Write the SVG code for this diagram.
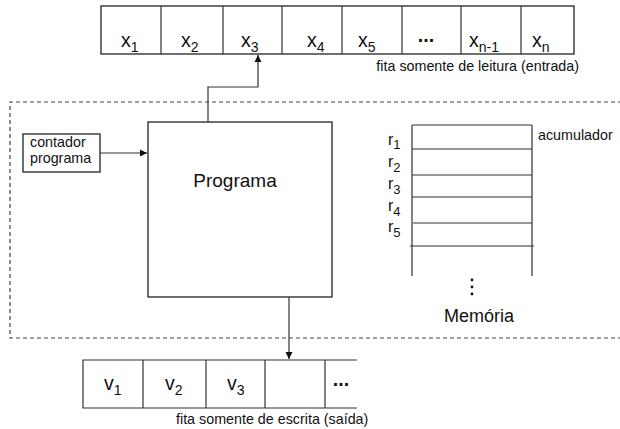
<svg xmlns="http://www.w3.org/2000/svg" width="620" height="429" viewBox="0 0 620 429">
<defs>
<style>
text{font-family:"Liberation Sans",Arial,sans-serif;fill:#111}
.big{font-size:19.5px}
.sub{font-size:14px}
.sm{font-size:14.3px}
.ln{stroke:#333;stroke-width:1.2;fill:none}
.box{stroke:#222;stroke-width:1.3;fill:#fff}
.dash{stroke:#444;stroke-width:1.2;fill:none;stroke-dasharray:4 3}
</style>
<marker id="ah" viewBox="0 0 10 10" refX="10" refY="5" markerWidth="7" markerHeight="9" markerUnits="userSpaceOnUse" orient="auto">
<path d="M0,0 L10,5 L0,10 z" fill="#111"/>
</marker>
</defs>
<rect width="620" height="429" fill="#fff"/>

<g id="container">
<path class="dash" d="M622,102 H10 V338 H622"/>
</g>

<g id="input-tape">
<rect class="box" x="101" y="6" width="473" height="48"/>
<path class="ln" d="M161,6V54M223,6V54M282,6V54M342,6V54M402,6V54M461,6V54M521,6V54"/>
<text class="big" x="121" y="47">x<tspan class="sub" dy="5">1</tspan></text>
<text class="big" x="181" y="47">x<tspan class="sub" dy="5">2</tspan></text>
<text class="big" x="241" y="47">x<tspan class="sub" dy="5">3</tspan></text>
<text class="big" x="307" y="47">x<tspan class="sub" dy="5">4</tspan></text>
<text class="big" x="358" y="47">x<tspan class="sub" dy="5">5</tspan></text>
<text class="big" x="426" y="42" text-anchor="middle" font-weight="bold">...</text>
<text class="big" x="469" y="47">x<tspan class="sub" dy="5">n-1</tspan></text>
<text class="big" x="532" y="47">x<tspan class="sub" dy="5">n</tspan></text>
<text class="sm" x="579" y="71" text-anchor="end">fita somente de leitura (entrada)</text>
</g>

<g id="contador">
<rect class="box" x="23" y="134" width="77" height="38"/>
<text class="sm" x="30" y="147">contador</text>
<text class="sm" x="30" y="163">programa</text>
</g>

<g id="programa">
<rect class="box" x="148" y="122" width="184" height="175"/>
<text x="235" y="187" text-anchor="middle" font-size="19">Programa</text>
</g>

<g id="memoria">
<path class="ln" d="M412,125V276M532,125V276"/>
<path class="ln" d="M412,125H532M412,149H532M412,175H532M412,197H532M413,223H532M410,246H534"/>
<text x="388" y="145" font-size="16">r<tspan font-size="13" dy="4">1</tspan></text>
<text x="388" y="167" font-size="16">r<tspan font-size="13" dy="5">2</tspan></text>
<text x="388" y="189" font-size="16">r<tspan font-size="13" dy="5">3</tspan></text>
<text x="388" y="211" font-size="16">r<tspan font-size="13" dy="5">4</tspan></text>
<text x="388" y="232" font-size="16">r<tspan font-size="13" dy="5">5</tspan></text>
<text class="sm" x="538" y="140">acumulador</text>
<circle cx="472" cy="280" r="1.4" fill="#111"/>
<circle cx="472" cy="287" r="1.4" fill="#111"/>
<circle cx="472" cy="294" r="1.4" fill="#111"/>
<text x="479" y="322" text-anchor="middle" font-size="18">Memória</text>
</g>

<g id="output-tape">
<path class="ln" d="M357,360H83V408H357"/>
<path class="ln" d="M143,360V408M206,360V408M265,360V408M325,360V408"/>
<text class="big" x="104" y="390">v<tspan class="sub" dy="5">1</tspan></text>
<text class="big" x="165" y="390">v<tspan class="sub" dy="5">2</tspan></text>
<text class="big" x="227" y="390">v<tspan class="sub" dy="5">3</tspan></text>
<text class="big" x="341" y="386" text-anchor="middle" font-weight="bold">...</text>
<text class="sm" x="176" y="424">fita somente de escrita (saída)</text>
</g>

<g id="connectors">
<path class="ln" d="M208,122V87H258V55" marker-end="url(#ah)"/>
<path class="ln" d="M100,153H147" marker-end="url(#ah)"/>
<path class="ln" d="M289,297V359" marker-end="url(#ah)"/>
</g>
</svg>
